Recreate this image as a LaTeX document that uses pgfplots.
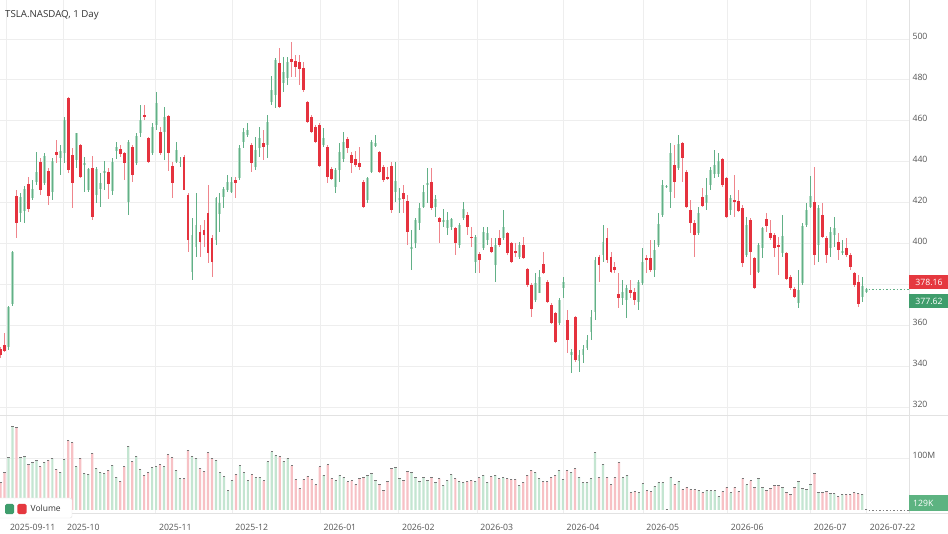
\documentclass[border=0pt]{standalone}
\usepackage{pgfplots}
\pgfplotsset{compat=1.18}
\usepackage{pgfplotstable}
\usepackage{fontspec}
\setmainfont{Open Sans}
\definecolor{gbody}{HTML}{B3DCC5}
\definecolor{gwick}{HTML}{62B087}
\definecolor{rbody}{HTML}{E5323E}
\definecolor{rwick}{HTML}{EF858C}
\definecolor{vgreen}{HTML}{C4E5D1}
\definecolor{vred}{HTML}{F7C1C5}
\definecolor{capc}{HTML}{777777}
\definecolor{gridc}{HTML}{EEEEEE}
\definecolor{linec}{HTML}{E2E2E2}
\definecolor{labc}{HTML}{555555}
\definecolor{glab}{HTML}{3F9D6C}
\definecolor{glab2}{HTML}{5DB381}
\definecolor{rlab}{HTML}{E5383F}

\pgfplotstableread{
i o h l c v
2 349.5 369.5 348 369 101
3 370.4 396.5 369.5 396 161
5 415 424.5 410.6 422.5 101
6 416 428 409.8 426.4 103
8 422 431 421.2 426.4 92
9 430.2 444.9 428.6 435.1 96
11 429.7 444 428.6 442.7 92
13 425.3 441.6 421.2 440.5 99
15 441.6 448.1 433.4 445.2 73
16 444.4 461.6 439.2 460.3 97
19 440.8 454.1 436.7 453.8 83
21 438.4 442.1 425.3 439.2 70
22 426.1 437 425 436.2 69
24 423.7 437.2 419.6 436.2 79
25 426.4 434.3 417.6 429.4 72
26 434.3 440.5 426.1 435.6 70
28 425.8 441.6 423.7 440 86
29 445.3 449.7 441.1 447.3 63
32 420.4 450.6 413.9 449.7 123
34 439.5 453.8 438.3 452.5 103
35 454.2 467.7 452.2 460.3 78
38 444.4 458.7 443.2 457.1 82
39 457.9 474.2 455.5 468.5 83
41 454.6 466.9 440.8 462 83
44 440 449.7 439.2 445.7 76
45 439.2 442.4 437.5 440 60
48 386.2 412.3 382.1 404.1 103
49 398.4 424.5 393.5 409 100
54 401.7 422.6 399.2 422.0 96
55 414.4 424.5 405.8 419.6 72
56 422.9 427.7 417.1 426.4 64
57 426.1 433.4 425.3 430.2 37
58 425.3 432.6 424.5 430.2 57
60 431.8 448.1 431 446.5 85
61 449.8 456.3 446.5 454.6 72
62 453 458.7 452.2 455.5 57
64 437.5 452.2 435.9 445.7 63
65 446.5 457.1 442.4 451.4 63
67 448.1 462.8 441.6 459.5 93
68 469.3 481.9 467.7 475 112
69 472.6 490.5 466 489.7 105
71 478.3 491.3 474.2 484 94
72 480.7 491.3 477.5 488.9 100
81 448.1 456.3 447.3 451.4 67
84 427.7 436.7 424.5 435.9 57
85 435.9 448.9 430.2 444.9 67
86 441.1 454.6 440 449.7 63
92 421.2 432.6 419.6 431.8 67
93 435.1 450.6 434.3 449.7 70
94 447.6 453 447.3 449.2 57
99 425.3 440 420.4 430.5 82
100 421.2 426.9 414.7 422 60
103 397.3 406.6 387 398.4 72
104 400 412.3 397.6 411.4 63
105 409.8 419.6 406.6 417.1 55
106 418 428.6 417.1 425.3 63
107 428.6 436.7 419.6 429.4 57
109 417.6 423.7 413.1 421.6 53
111 410.8 416.6 408.2 411.4 47
112 407.4 415.5 404.1 411.4 57
113 408.2 412.3 406.6 411.8 68
115 399.2 409.8 397.6 409 54
116 412.3 420.4 411.4 416.6 53
119 391.1 404.1 385.4 403.3 55
121 397.6 408.2 396.8 405.8 67
122 401.7 408.2 399.2 405.3 53
124 389.4 402.5 381.3 399.2 67
126 402.5 416.3 401.7 408.2 62
130 393.2 400.8 392.2 399.2 47
134 372.3 385.4 371.5 380.5 72
135 375.9 387 375.6 383.4 60
140 360.9 373.1 360.1 372.3 76
141 378 383.7 373.1 381.3 59
143 345.4 348.2 336.5 347 73
145 342.7 347.9 337.3 345.4 63
146 345.4 350.3 341.4 348.2 53
147 348.7 355.2 347.9 352.8 53
148 356.8 367.4 352.8 364.2 60
149 366.6 393.5 362.5 391.9 110
151 394.3 409 391.1 400.8 88
156 373.1 382.1 369.9 376.4 62
157 372.3 379.6 363.4 378 67
160 371.5 382.1 367.4 381.3 33
161 380.5 397.6 379.6 391.1 51
164 387 401.7 383.7 396.8 46
165 399.2 415 398.4 409.5 53
166 413.9 431 413.1 428.6 53
167 427.7 428.6 427 428.3 0.5
168 425.3 448.9 417.1 444 63
170 436.7 453 435.9 448.6 55
175 404.9 418 404.1 414.7 38
177 419.9 431.8 416.3 423.7 38
178 428.6 437.5 426.1 435.9 37
179 433.9 445.7 431.8 438.3 37
180 433.9 444 432.6 440.5 26
183 416.3 423.7 413.9 422 33
187 394.3 413.1 393.5 409 49
190 386.2 400 385.4 399.2 60
191 397.6 408.2 392.7 407.4 44
196 395.1 413.9 393.5 403.6 44
200 370.7 387 368.2 377.2 55
201 380.5 409.8 379.6 408.5 42
202 409 419.6 408.2 416.3 40
203 417.6 433 417.1 423.2 49
205 399.2 418.8 391.1 417.1 34
208 397.6 408.2 393.5 405.8 32
209 404.1 413.1 398.4 407.4 31
211 395.1 401.7 394.3 396.3 30
216 373.9 383.7 371.5 379.2 30
217 376.4 378 375.9 377.62 0.129
}\greentab

\pgfplotstableread{
i o h l c v
0 348.5 349.5 344 345.5 53
1 350.3 356 347 347.5 72
4 423.2 426.1 402.5 409.8 158
7 429 432.3 415.5 416.6 88
10 440 441.6 423.7 426.1 83
12 435.6 436.7 418.8 423.3 96
14 444.9 450.6 439.2 443.2 78
17 470.9 471.8 434.3 435.9 133
18 443.2 446.5 417.1 429.7 129
20 448.1 448.6 431.8 432.6 100
23 436.7 442.7 411.4 413.1 109
27 435.1 436.7 421.6 429.0 76
30 446 448.1 442.4 443.7 55
31 444 444.9 431 439.2 83
33 447.3 448.1 430.2 433.4 93
36 462.8 467.7 460.3 462 67
37 451.4 452.2 439.5 440 72
40 454.6 457.1 443.2 444 87
42 462.3 462.8 435.6 444 106
43 437.9 440 422 429.4 101
46 442.4 443.2 426 426.1 60
47 423.7 424.5 396 401.7 115
50 405.8 409 393.5 400.9 80
51 406.6 411.4 398.4 404.1 75
52 414.7 428.6 390.3 395.1 110
53 402.5 404.1 383.7 391.1 99
59 431 432.6 422 429.4 69
63 448.1 448.9 435.1 439.2 68
66 449 455.5 440.8 447.3 56
70 488.4 495.4 466 466.9 103
73 490 498.6 481.5 488.9 85
74 489.4 492.1 481.5 486.1 59
75 488.9 492.1 477.5 485.1 42
76 485.6 488.9 474.2 475 59
77 469.3 469.8 459 459.5 65
78 461.6 462.8 453.8 454.6 59
79 456.8 457.9 449 449.8 49
80 457.9 458.7 437.5 437.9 83
82 447.3 448.1 429.4 432.6 87
83 436.2 437.5 431 431.3 61
87 450.9 452.2 444 446.5 54
88 443.2 444.9 434.3 439.2 56
89 441.1 445.3 437.5 438.3 50
90 439.5 447.3 435.9 437.2 60
91 430.2 431 417.1 417.6 62
95 444.9 445.3 434.3 435.1 50
96 437.5 438.3 430.2 431 38
97 432.3 437.5 431 431.3 55
98 437.9 440 414.7 416.3 80
101 424.5 428.6 414.7 421.6 57
102 420.9 423.7 399.2 405.8 74
108 430.2 436.7 416.3 417.1 63
110 412.3 413.1 400 410.6 60
114 407.4 408.2 394.3 400 60
117 413.9 415.5 404.1 408.2 55
118 403.3 408.2 398.4 402.5 57
120 394.8 395.9 385.4 391.9 62
123 398.1 402.5 395.1 396 64
125 402.5 406.6 398.4 399.2 60
127 404.9 405.8 394.3 395.1 60
128 400 400.8 390.3 391.1 59
129 396.3 400 393.5 395.1 59
131 399.2 403.3 392.2 392.7 53
132 387.3 387.8 378.8 379.6 67
133 379.6 380.5 364.2 367.8 76
136 389.9 396 385 385.7 55
137 381.3 382.1 371 371.5 55
138 369.9 370.7 360.6 361.2 63
139 366.1 366.6 351.1 351.9 67
142 362.5 367.4 346.2 352.8 76
144 364.2 364.7 342.2 343 79
150 393.5 394.3 381.3 389.4 63
152 402.5 407.4 390.3 391.9 63
153 393.5 396 385.4 386.2 49
154 388.6 391.1 385.4 387 63
155 375.3 385.4 368.2 373.1 92
158 377.2 382.1 373.1 375.9 34
159 376.4 378 369.9 372.3 36
162 392.7 394.3 385.4 391.9 37
163 392.7 401.7 386.2 387 36
169 438.3 448.1 422 430.2 50
171 448.9 449.7 430.2 441.6 40
172 435.1 435.9 417.1 418 44
173 416.3 421.2 404.9 409.8 40
174 409.8 411.4 393.5 404.1 39
176 422.5 426.9 418 418.3 34
181 441.1 441.6 427.7 428.6 36
182 431.8 432.6 412.3 413.1 44
184 421.2 433.4 413.1 420.4 44
185 420.9 426.1 415.5 416 36
186 417.1 418.8 388.6 390.6 61
188 411.4 412.3 384.5 396 56
189 392.7 393.5 377.5 378 44
192 411.8 414.7 405.8 408.5 37
193 405.3 411.4 401.7 402.5 42
194 404.1 404.9 393.5 397.6 47
195 399.2 403.3 384.5 398.4 47
197 395.1 395.9 382.1 382.4 33
198 383.7 384.5 377.2 378 29
199 377.5 378.8 373.1 374 44
204 420.4 437.5 389.4 394.3 71
206 413.9 419.6 402.5 403.3 34
207 402.5 403.6 390.3 394.3 36
210 400.8 404.9 391.9 396.8 25
212 397.6 402.5 393.5 394.3 30
213 394.3 395.1 387 388.6 29
214 385.4 386.2 378.8 379.6 33
215 381.3 384.5 369 370.4 31
}\redtab

\pgfplotsset{
  chartbase/.style={
    scale only axis, width=909pt,
    xmin=-0.125, xmax=227.7,
    axis line style={draw=none}, major tick length=0pt,
    xtick={1.5,15.79,38.85,58.0,80.08,99.75,119.4,141.0,161.0,182.2,203.0,217.0},
    xmajorgrids, ymajorgrids,
    grid style={gridc, line width=0.6pt},
    yticklabel pos=right,
    /pgf/number format/assume math mode=true,
    tick label style={font=\fontsize{8.7}{10}\selectfont, text=labc},
    yticklabel style={anchor=west, yshift=2.5pt},
  },
  wick/.style={draw=none, mark=none, forget plot,
    error bars/.cd, y dir=both, y explicit, error mark=none,
    error bar style={line width=0.9pt, draw=#1, solid}},
  body/.style={draw=none, mark=none, forget plot,
    error bars/.cd, y dir=both, y explicit, error mark=none,
    error bar style={line width=2.9pt, draw=#1, solid}},
}

\begin{document}
\begin{tikzpicture}
\useasboundingbox (0pt,0pt) rectangle (948pt,533pt);
\fill[white] (0pt,0pt) rectangle (948pt,533pt);

% price panel
\begin{axis}[chartbase, at={(0pt,118pt)}, anchor=south west, height=415pt,
  ymin=316.1, ymax=519.0, ytick={320,340,...,500},
  yticklabels={320,340,360,,400,420,440,460,480,500}, xticklabels={}]
\addplot[wick=rwick] table[x=i, y expr={0.5*(\thisrow{h}+\thisrow{l})}, y error expr={0.5*(\thisrow{h}-\thisrow{l})}] \redtab;
\addplot[body=rbody] table[x=i, y expr={0.5*(\thisrow{o}+\thisrow{c})}, y error expr={max(0.5*abs(\thisrow{o}-\thisrow{c}),0.3)}] \redtab;
\addplot[body=gbody] table[x=i, y expr={0.5*(\thisrow{o}+\thisrow{c})}, y error expr={max(0.5*abs(\thisrow{o}-\thisrow{c}),0.3)}] \greentab;
\addplot[wick=gwick] table[x=i, y expr={0.5*(\thisrow{h}+\thisrow{l})}, y error expr={0.5*(\thisrow{h}-\thisrow{l})}] \greentab;
\addplot[forget plot, mark=none, draw=gwick, line width=0.7pt, dash pattern=on 1.5pt off 2pt] coordinates {(217.6,377.62) (227.7,377.62)};
\end{axis}

% volume panel
\begin{axis}[chartbase, at={(0pt,20pt)}, anchor=south west, height=98pt,
  ymin=-5.77, ymax=182.7, ytick={100}, yticklabels={100M},
  xticklabels={2025-09-11,2025-10,2025-11,2025-12,2026-01,2026-02,2026-03,2026-04,2026-05,2026-06,2026-07,2026-07-22},
  xticklabel style={anchor=base west, yshift=-17pt}]
\addplot[ybar, bar width=2.2pt, bar shift=0pt, fill=vred, draw=none, forget plot] table[x=i, y=v] \redtab;
\addplot[ybar, bar width=2.2pt, bar shift=0pt, fill=vgreen, draw=none, forget plot] table[x=i, y=v] \greentab;
\addplot[only marks, mark=-, mark size=1.1pt, mark options={line width=1pt, draw=capc}, forget plot] table[x=i, y=v] \redtab;
\addplot[only marks, mark=-, mark size=1.1pt, mark options={line width=1pt, draw=capc}, forget plot] table[x=i, y=v] \greentab;
\addplot[forget plot, mark=none, draw=gray, line width=0.6pt, dash pattern=on 1.5pt off 2pt] coordinates {(217.6,0) (227.7,0)};
\end{axis}

% frame lines
\draw[linec, line width=0.7pt] (909pt,20pt) -- (909pt,533pt);
\draw[linec, line width=0.7pt] (0pt,118pt) -- (948pt,118pt);
\draw[linec, line width=0.7pt] (0pt,20pt) -- (948pt,20pt);

% title
\node[anchor=base west, inner sep=0pt, text=black!80, font=\fontsize{9.7}{11}\selectfont] at (5pt,515pt) {TSLA.NASDAQ, 1 Day};

% last price labels
\fill[rlab] (909pt,244pt) rectangle (948pt,257.5pt);
\node[text=white, inner sep=0pt, font=\fontsize{8.7}{10}\selectfont] at (929pt,250.7pt) {378.16};
\fill[glab] (909pt,225pt) rectangle (948pt,239pt);
\node[text=white, inner sep=0pt, font=\fontsize{8.7}{10}\selectfont] at (929pt,232pt) {377.62};
\fill[glab2] (909pt,22pt) rectangle (948pt,38pt);
\node[anchor=west, text=white, inner sep=0pt, font=\fontsize{8.7}{10}\selectfont] at (913pt,30pt) {129K};

% legend
\filldraw[fill=white, draw=linec, rounded corners=2pt] (-3pt,15pt) rectangle (72pt,35pt);
\fill[glab, rounded corners=1.5pt] (5pt,19pt) rectangle (14pt,29pt);
\fill[rlab, rounded corners=1.5pt] (17.3pt,19pt) rectangle (26.5pt,29pt);
\node[anchor=west, inner sep=0pt, text=black!80, font=\fontsize{8.5}{10}\selectfont] at (30.5pt,24.5pt) {Volume};
\end{tikzpicture}
\end{document}
